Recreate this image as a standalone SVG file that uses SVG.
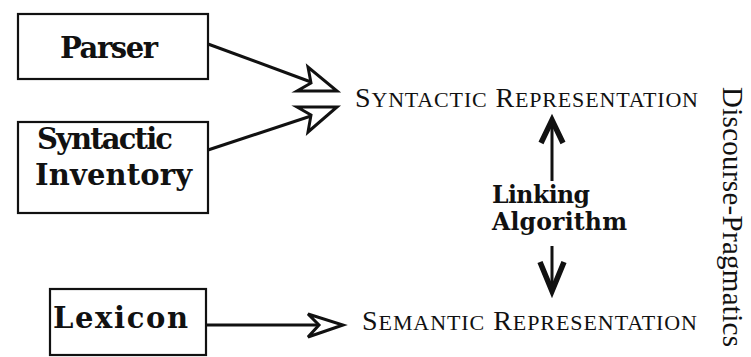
<svg xmlns="http://www.w3.org/2000/svg" width="751" height="357" viewBox="0 0 751 357">
  <style>
    .box { fill: #fff; stroke: #111; stroke-width: 2.2; }
    .lbl { font-family: "DejaVu Serif", "Liberation Serif", serif; font-weight: bold; font-size: 29px; fill: #111; }
    .mid { font-family: "DejaVu Serif", "Liberation Serif", serif; font-weight: bold; font-size: 23.5px; fill: #111; }
    .rep { font-family: "Liberation Serif", "Times New Roman", serif; font-size: 28px; fill: #111; }
    .sc { font-size: 22px; }
    .side { font-family: "Liberation Serif", "Times New Roman", serif; font-size: 29px; fill: #111; }
    .shaft { stroke: #111; stroke-width: 3; fill: none; }
    .open { fill: #fff; stroke: #111; stroke-width: 3; stroke-linejoin: miter; }
    .bold { fill: none; stroke: #111; stroke-width: 5.5; stroke-linejoin: miter; stroke-linecap: butt; }
  </style>
  <rect width="751" height="357" fill="#fff"/>

  <g id="parser">
    <rect class="box" x="18" y="14" width="190" height="65"/>
    <text class="lbl" x="60" y="58" textLength="98" lengthAdjust="spacing">Parser</text>
  </g>

  <g id="syntactic-inventory">
    <rect class="box" x="18" y="122" width="190" height="91"/>
    <text class="lbl" x="37" y="149" textLength="136" lengthAdjust="spacing">Syntactic</text>
    <text class="lbl" x="35" y="185" textLength="157" lengthAdjust="spacing">Inventory</text>
  </g>

  <g id="lexicon">
    <rect class="box" x="50" y="289" width="156" height="66"/>
    <text class="lbl" x="53" y="328" textLength="135" lengthAdjust="spacing">Lexicon</text>
  </g>

  <g id="syntactic-representation">
    <text class="rep" x="355" y="107" textLength="343" lengthAdjust="spacing">S<tspan class="sc">YNTACTIC</tspan> R<tspan class="sc">EPRESENTATION</tspan></text>
  </g>

  <g id="semantic-representation">
    <text class="rep" x="362" y="330" textLength="335" lengthAdjust="spacing">S<tspan class="sc">EMANTIC</tspan> R<tspan class="sc">EPRESENTATION</tspan></text>
  </g>

  <g id="linking-algorithm">
    <text class="mid" x="492" y="203" textLength="98" lengthAdjust="spacing">Linking</text>
    <text class="mid" x="492" y="230" textLength="135" lengthAdjust="spacing">Algorithm</text>
  </g>

  <g id="discourse-pragmatics">
    <text class="side" transform="translate(723 87) rotate(90)" textLength="260" lengthAdjust="spacing">Discourse-Pragmatics</text>
  </g>

  <g id="connectors">
    <!-- Parser to syntactic representation -->
    <line class="shaft" x1="208" y1="44" x2="311" y2="82"/>
    <polygon class="open" points="297,91 311,83 308,67 337,91"/>
    <!-- Syntactic inventory to syntactic representation -->
    <line class="shaft" x1="208" y1="150" x2="311" y2="116"/>
    <polygon class="open" points="297,107 311,115 308,132 337,107"/>
    <!-- Lexicon to semantic representation -->
    <line class="shaft" x1="206" y1="325" x2="318" y2="325"/>
    <polygon class="open" points="308,314 343,325 308,337 319,325"/>
    <!-- Linking algorithm up to syntactic representation -->
    <line class="shaft" x1="552" y1="122" x2="552" y2="181"/>
    <polyline class="bold" points="541,143 552,120 563,143"/>
    <!-- Linking algorithm down to semantic representation -->
    <line class="shaft" x1="552" y1="246" x2="552" y2="290"/>
    <polyline class="bold" points="540,262 552,291 564,262"/>
  </g>
</svg>
